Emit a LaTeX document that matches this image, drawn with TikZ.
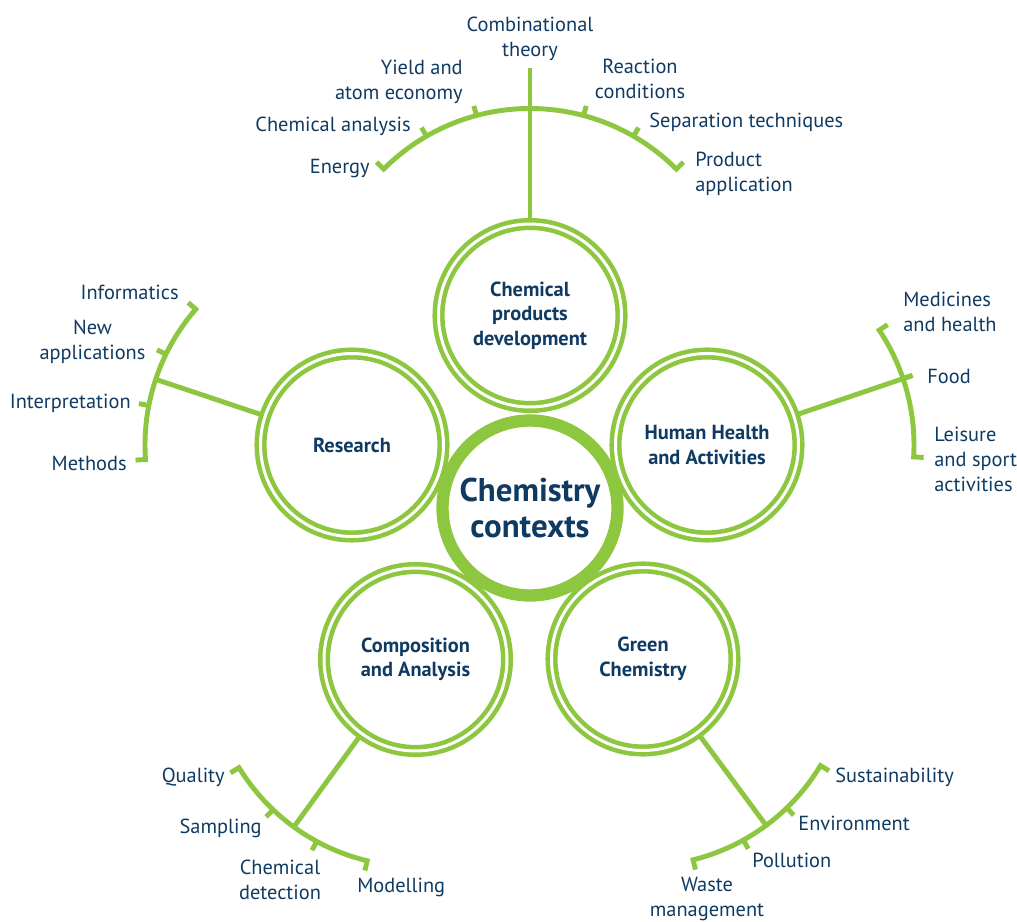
\documentclass[tikz,border=0pt]{standalone}
\usepackage{fontspec}
\setmainfont{PT Sans}
\usetikzlibrary{calc, positioning}
\definecolor{leaf}{HTML}{8DC63F}
\definecolor{ink}{HTML}{0F3A62}

\begin{document}
\begin{tikzpicture}[x=0.02cm, y=0.02cm,
    theme/.style={circle, draw=leaf, line width=2.6pt, double=white, double distance=1.7pt,
      minimum size=3.66cm, inner sep=0pt, align=center, text=ink,
      font=\bfseries\fontsize{11.6}{14}\selectfont},
    hub/.style={circle, draw=leaf, line width=7pt, minimum size=3.5cm, inner sep=0pt,
      align=center, text=ink, font=\bfseries\fontsize{18.7}{20.6}\selectfont},
    branch/.style={draw=leaf, line width=2.8pt, line join=miter},
    lbl/.style={text=ink, inner sep=0pt, font=\fontsize{11.6}{14.2}\selectfont}]
    \useasboundingbox (0,0) rectangle (1017,921);
    \def\R{207}
    \def\T{217}

    \node[theme] (prod) at (530,605.5) {Chemical\\products\\development};
    \node[theme] (res) at (352,476) {Research};
    \node[theme] (hum) at (707,476) {Human Health\\and Activities};
    \node[theme] (comp) at (415.5,261.5) {Composition\\and Analysis};
    \node[theme] (green) at (643,262) {Green\\Chemistry};
    \node[hub] (ctx) at (530,413) {Chemistry\\contexts};

    \foreach \n/\m/\l/\s/\e/\tk in {prod/90/247/45/135/{60,75,105,120},
        res/161.5/\R/139/184/{154,169}, hum/18.7/\T/-3.3/33.7/{18.7},
        comp/234/\R/211.5/256.5/{226.5,241.5}, green/-53.5/\R/-76/-31/{-61,-46}} {
      \coordinate (\n-end) at ($(\n)+(\m:\l)$);
      \draw[branch] (\n) -- (\n-end);
      \draw[branch] ($(\n)+(\s:\T)$) -- ($(\n)+(\s:\R)$) arc[start angle=\s, end angle=\e, radius=\R]
        -- ($(\n)+(\e:\T)$);
      \foreach \t in \tk
        \draw[branch] ($(\n)+(\t:\R)$) -- ($(\n)+(\t:\T)$);
    }

    \node[lbl, align=center] (comb) at (530,882) {Combinational\\theory};
    \node[lbl, align=right, anchor=east] (yield) at (463,839) {Yield and\\atom economy};
    \node[lbl, anchor=east] (chan) at (411,795) {Chemical analysis};
    \node[lbl, anchor=east] (energy) at (370,752) {Energy};
    \node[lbl, align=center] (react) at (640,842) {Reaction\\conditions};
    \node[lbl, anchor=west] (sep) at (649,799) {Separation techniques};
    \node[lbl, align=left, anchor=west] (appl) at (695,747) {Product\\application};

    \node[lbl, anchor=east] (info) at (179,629) {Informatics};
    \node[lbl, align=center] (newapp) at (92.5,579) {New\\applications};
    \node[lbl, anchor=east] (interp) at (131,518) {Interpretation};
    \node[lbl, anchor=east] (meth) at (127,458) {Methods};

    \node[lbl, align=left, anchor=west] (med) at (903,609) {Medicines\\and health};
    \node[lbl, anchor=west] (food) at (927,545) {Food};
    \node[lbl, align=left, anchor=west] (leis) at (934,462) {Leisure\\and sport\\activities};

    \node[lbl, anchor=east] (qual) at (225,144) {Quality};
    \node[lbl, anchor=east] (samp) at (262,93) {Sampling};
    \node[lbl, align=center] (detect) at (280,41) {Chemical\\detection};
    \node[lbl, anchor=west] (model) at (357,34) {Modelling};

    \node[lbl, anchor=west] (sust) at (835,144) {Sustainability};
    \node[lbl, anchor=west] (env) at (798,98) {Environment};
    \node[lbl, anchor=west] (poll) at (752,61) {Pollution};
    \node[lbl, align=center] (waste) at (707,22) {Waste\\management};
\end{tikzpicture}
\end{document}
